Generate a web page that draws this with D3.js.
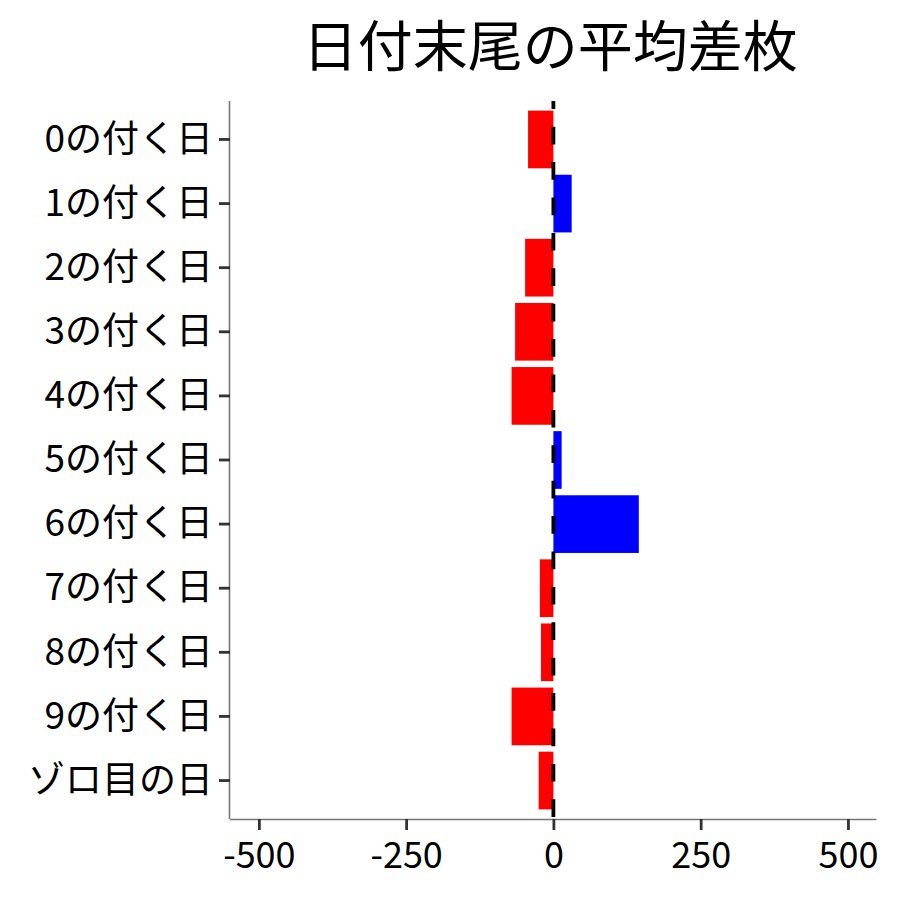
<!DOCTYPE html>
<html>
<head>
<meta charset="utf-8">
<script src="https://cdn.jsdelivr.net/npm/d3@7"></script>
<style>
  html, body { margin: 0; padding: 0; background: #fff; }
  svg { display: block; font-family: "Noto Sans CJK JP", "Noto Sans", sans-serif; }
</style>
</head>
<body>
<svg id="chart" width="900" height="900"></svg>
<script>
const titleText = "日付末尾の平均差枚";
const categories = ["0の付く日","1の付く日","2の付く日","3の付く日","4の付く日","5の付く日","6の付く日","7の付く日","8の付く日","9の付く日","ゾロ目の日"];
const values = [-43, 31, -48, -65, -71, 14, 145, -23, -21, -71, -25];
const xTicks = [-500, -250, 0, 250, 500];
const xTickLabels = ["-500", "-250", "0", "250", "500"];

const W = 900, H = 900;
const m = { left: 230, right: 876.5, top: 101, bottom: 819 };

const svg = d3.select("#chart");

const x = d3.scaleLinear().domain([-549, 548.5]).range([m.left, m.right]);
const y = d3.scaleBand().domain(categories).range([m.top, m.bottom])
  .paddingInner(0.1).paddingOuter(0.15);

// bars
svg.append("g").selectAll("rect").data(values).join("rect")
  .attr("x", (d) => x(Math.min(0, d)))
  .attr("width", (d) => Math.abs(x(d) - x(0)))
  .attr("y", (d, i) => y(categories[i]))
  .attr("height", y.bandwidth())
  .attr("fill", (d) => d >= 0 ? "#0000FF" : "#FF0000");

// zero dashed line
svg.append("line")
  .attr("x1", x(0)).attr("x2", x(0))
  .attr("y1", m.top).attr("y2", m.bottom)
  .attr("stroke", "#000").attr("stroke-width", 3.8)
  .attr("stroke-dasharray", "17.7 17.7")
  .attr("stroke-dashoffset", 9.7);

// x axis
const xAxis = svg.append("g").attr("transform", `translate(0,${m.bottom})`)
  .call(d3.axisBottom(x).tickValues(xTicks).tickSize(11).tickPadding(12)
    .tickFormat((d, i) => xTickLabels[i]));
xAxis.select(".domain").attr("stroke", "#777").attr("stroke-width", 1.6)
  .attr("d", `M${m.left},0.5H${m.right}`);
xAxis.selectAll(".tick line").attr("stroke", "#333").attr("stroke-width", 2.8);
xAxis.selectAll(".tick text").attr("fill", "#000").attr("font-size", 36)
  .attr("font-family", '"Noto Sans CJK JP", sans-serif');

// y axis
const yAxis = svg.append("g").attr("transform", `translate(${m.left},0)`)
  .call(d3.axisLeft(y).tickSize(11).tickPadding(6));
yAxis.select(".domain").attr("stroke", "#777").attr("stroke-width", 1.6)
  .attr("d", `M-0.5,${m.top}V${m.bottom}`);
yAxis.selectAll(".tick line").attr("stroke", "#333").attr("stroke-width", 2.8);
yAxis.selectAll(".tick text").attr("fill", "#000").attr("font-size", 37)
  .attr("dy", "0.33em")
  .attr("font-family", '"Noto Sans CJK JP", sans-serif');

// title
svg.append("text")
  .attr("x", (m.left + m.right) / 2 - 3).attr("y", 66)
  .attr("text-anchor", "middle")
  .attr("font-size", 55)
  .attr("fill", "#000")
  .attr("font-family", '"Noto Sans CJK JP", sans-serif')
  .text(titleText);
</script>
</body>
</html>
